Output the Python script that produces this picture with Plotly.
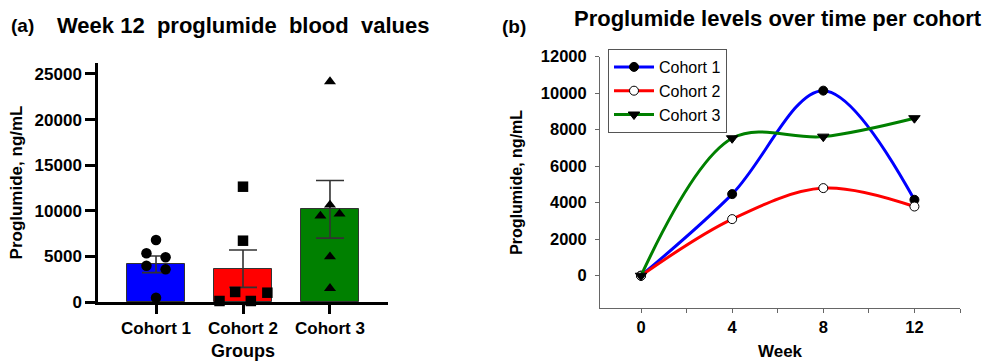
import plotly.graph_objects as go

# ---------------- data ----------------
groups = ["Cohort 1", "Cohort 2", "Cohort 3"]
bar_means = [4130, 3650, 10160]
bar_sem = [910, 2045, 3160]
bar_colors = ["#0000FF", "#FF0000", "#008000"]

c1_points = [6800, 5340, 4900, 3980, 3580, 470]
c2_points = [12640, 6720, 1100, 1020, 110, 110]
c3_points = [24160, 10640, 9430, 9650, 4970, 1500]
c1_jitter = [0.0, -0.11, 0.11, -0.11, 0.11, 0.0]
c2_jitter = [0.0, 0.0, -0.09, 0.28, -0.27, 0.09]
c3_jitter = [0.0, 0.0, -0.11, 0.11, 0.0, 0.0]

weeks = [0, 4, 8, 12]
cohort1_levels = [0, 4470, 10140, 4160]
cohort2_levels = [0, 3100, 4800, 3790]
cohort3_levels = [0, 7530, 7620, 8630]

W, H = 987, 361
FONT = "Liberation Sans, Arial, sans-serif"

fig = go.Figure()

# ---------- panel (a) ----------
fig.add_trace(go.Bar(
    x=[0, 1, 2], y=bar_means, width=0.66,
    marker=dict(color=bar_colors, line=dict(color="#333333", width=1)),
    error_y=dict(type="data", array=bar_sem, visible=True, color="#333333",
                 thickness=1.6, width=14),
    xaxis="x", yaxis="y", showlegend=False, hoverinfo="skip"))

for i, (pts, jit, sym) in enumerate([(c1_points, c1_jitter, "circle"),
                                      (c2_points, c2_jitter, "square"),
                                      (c3_points, c3_jitter, "triangle-up")]):
    fig.add_trace(go.Scatter(
        x=[i + j for j in jit], y=pts, mode="markers",
        marker=dict(symbol=sym, size=10.5, color="black", line=dict(width=0)),
        xaxis="x", yaxis="y", showlegend=False, cliponaxis=False))

# ---------- panel (b) ----------
series = [
    ("Cohort 1", cohort1_levels, "#0000FF",
     dict(symbol="circle", size=9, color="black", line=dict(color="black", width=1))),
    ("Cohort 2", cohort2_levels, "#FF0000",
     dict(symbol="circle", size=9, color="white", line=dict(color="black", width=1))),
    ("Cohort 3", cohort3_levels, "#008000",
     dict(symbol="triangle-down", size=10, color="black", line=dict(color="black", width=1))),
]
for name, vals, col, mk in series:
    fig.add_trace(go.Scatter(
        x=weeks, y=vals, name=name, mode="lines+markers",
        line=dict(color=col, width=3, shape="spline", smoothing=1),
        marker=mk, xaxis="x2", yaxis="y2", cliponaxis=False))

def px_x(p):
    return p / W

def px_y(p):
    return 1 - p / H

tickfont_a = dict(family=FONT, size=17, color="black", weight="bold")
tickfont_b = dict(family=FONT, size=16.5, color="black", weight="bold")

fig.update_layout(
    width=W, height=H,
    margin=dict(l=0, r=0, t=0, b=0, autoexpand=False),
    paper_bgcolor="white", plot_bgcolor="white",
    font=dict(family=FONT, color="black"),
    bargap=0,
    xaxis=dict(domain=[px_x(98), px_x(388)], range=[-0.667, 2.667],
               tickvals=[0, 1, 2], ticktext=groups, tickfont=tickfont_a,
               showline=True, linecolor="black", linewidth=2.5,
               ticks="outside", ticklen=9, tickwidth=2.5, tickcolor="black",
               showgrid=False, zeroline=False, fixedrange=True, automargin=False,
               title=dict(text="Groups", font=dict(family=FONT, size=18, weight="bold"),
                          standoff=13)),
    yaxis=dict(domain=[px_y(302), px_y(63)], range=[0, 26200],
               tickvals=[0, 5000, 10000, 15000, 20000, 25000], tickformat="d",
               tickfont=tickfont_a, automargin=False,
               showline=True, linecolor="black", linewidth=2.5,
               ticks="outside", ticklen=10, tickwidth=2.5, tickcolor="black",
               showgrid=False, zeroline=False,
               title=dict(text="Proglumide, ng/mL",
                          font=dict(family=FONT, size=17, weight="bold"), standoff=8)),
    xaxis2=dict(domain=[px_x(600), px_x(960)], range=[-1.8, 14],
                tickvals=[0, 2, 4, 6, 8, 10, 12, 14],
                ticktext=["0", "", "4", "", "8", "", "12", ""], tickfont=tickfont_b,
                showline=True, linecolor="#666666", linewidth=1, automargin=False,
                ticks="outside", ticklen=4, tickwidth=1, tickcolor="#666666",
                showgrid=False, zeroline=False, anchor="y2",
                title=dict(text="Week", font=dict(family=FONT, size=17, weight="bold"),
                           standoff=12)),
    yaxis2=dict(domain=[px_y(308), px_y(56.7)], range=[-1770, 12000],
                tickvals=[0, 2000, 4000, 6000, 8000, 10000, 12000], tickformat="d",
                tickfont=tickfont_b, automargin=False, ticklabelstandoff=5,
                showline=True, linecolor="#666666", linewidth=1,
                ticks="outside", ticklen=4, tickwidth=1, tickcolor="#666666",
                showgrid=False, zeroline=False, anchor="x2",
                title=dict(text="Proglumide, ng/mL",
                           font=dict(family=FONT, size=16, weight="bold"), standoff=14)),
    legend=dict(x=px_x(608), y=px_y(49), xanchor="left", yanchor="top",
                bgcolor="white", bordercolor="#555555", borderwidth=1,
                font=dict(family=FONT, size=16, color="black"),
                tracegroupgap=0, itemwidth=40),
    showlegend=True,
    annotations=[
        dict(text="<b>(a)</b>", x=px_x(9), y=px_y(26), xref="paper", yref="paper",
             xanchor="left", yanchor="middle", showarrow=False,
             font=dict(family=FONT, size=19, color="black")),
        dict(text="<b>Week 12  proglumide  blood  values</b>", x=px_x(55), y=px_y(25),
             xref="paper", yref="paper", xanchor="left", yanchor="middle",
             showarrow=False, font=dict(family=FONT, size=22, color="black")),
        dict(text="<b>(b)</b>", x=px_x(500), y=px_y(27), xref="paper", yref="paper",
             xanchor="left", yanchor="middle", showarrow=False,
             font=dict(family=FONT, size=19, color="black")),
        dict(text="<b>Proglumide levels over time per cohort</b>", x=px_x(984), y=px_y(19),
             xref="paper", yref="paper", xanchor="right", yanchor="middle",
             showarrow=False, font=dict(family=FONT, size=22, color="black")),
    ],
)

fig.write_html(
    "out.html",
    config={"displayModeBar": False},
    post_script="document.body.style.margin='0';document.body.style.overflow='hidden';",
)
